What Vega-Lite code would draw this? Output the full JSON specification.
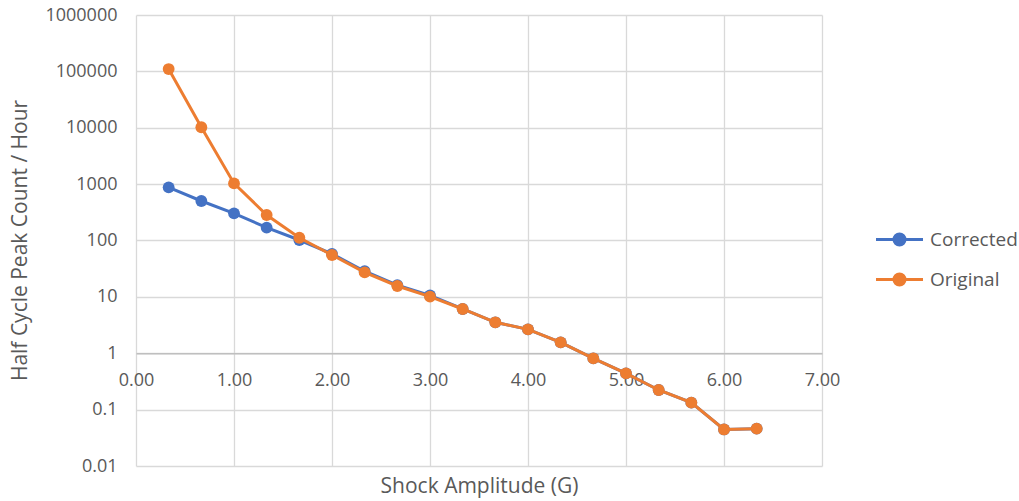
{
  "$schema": "https://vega.github.io/schema/vega-lite/v6.json",
  "autosize": "none",
  "width": 686,
  "height": 451,
  "padding": {"left": 136, "top": 15, "right": 197, "bottom": 35},
  "background": "white",
  "config": {
    "view": {"stroke": null},
    "font": "Open Sans",
    "axis": {"labelFont": "Open Sans", "titleFont": "Open Sans", "labelColor": "#595959", "titleColor": "#595959", "labelFontSize": 18, "titleFontSize": 21, "titleFontWeight": "normal", "gridColor": "#D9D9D9", "gridWidth": 1.3, "ticks": false, "labelFlush": false},
    "legend": {"labelFont": "Open Sans", "labelFontSize": 19, "labelColor": "#595959"}
  },
  "data": {
    "values": [
      {"x": 0.3333, "y": 877, "series": "Corrected"},
      {"x": 0.6667, "y": 502, "series": "Corrected"},
      {"x": 1.0, "y": 303, "series": "Corrected"},
      {"x": 1.3333, "y": 169, "series": "Corrected"},
      {"x": 1.6667, "y": 102, "series": "Corrected"},
      {"x": 2.0, "y": 58, "series": "Corrected"},
      {"x": 2.3333, "y": 28.5, "series": "Corrected"},
      {"x": 2.6667, "y": 16.2, "series": "Corrected"},
      {"x": 3.0, "y": 10.6, "series": "Corrected"},
      {"x": 3.3333, "y": 6.1, "series": "Corrected"},
      {"x": 3.6667, "y": 3.54, "series": "Corrected"},
      {"x": 4.0, "y": 2.65, "series": "Corrected"},
      {"x": 4.3333, "y": 1.56, "series": "Corrected"},
      {"x": 4.6667, "y": 0.81, "series": "Corrected"},
      {"x": 5.0, "y": 0.44, "series": "Corrected"},
      {"x": 5.3333, "y": 0.223, "series": "Corrected"},
      {"x": 5.6667, "y": 0.133, "series": "Corrected"},
      {"x": 6.0, "y": 0.0445, "series": "Corrected"},
      {"x": 6.3333, "y": 0.046, "series": "Corrected"},
      {"x": 0.3333, "y": 110000, "series": "Original"},
      {"x": 0.6667, "y": 10200, "series": "Original"},
      {"x": 1.0, "y": 1030, "series": "Original"},
      {"x": 1.3333, "y": 283, "series": "Original"},
      {"x": 1.6667, "y": 112, "series": "Original"},
      {"x": 2.0, "y": 55.3, "series": "Original"},
      {"x": 2.3333, "y": 27.2, "series": "Original"},
      {"x": 2.6667, "y": 15.6, "series": "Original"},
      {"x": 3.0, "y": 10.1, "series": "Original"},
      {"x": 3.3333, "y": 6.1, "series": "Original"},
      {"x": 3.6667, "y": 3.54, "series": "Original"},
      {"x": 4.0, "y": 2.65, "series": "Original"},
      {"x": 4.3333, "y": 1.56, "series": "Original"},
      {"x": 4.6667, "y": 0.81, "series": "Original"},
      {"x": 5.0, "y": 0.44, "series": "Original"},
      {"x": 5.3333, "y": 0.223, "series": "Original"},
      {"x": 5.6667, "y": 0.133, "series": "Original"},
      {"x": 6.0, "y": 0.0445, "series": "Original"},
      {"x": 6.3333, "y": 0.046, "series": "Original"}
    ]
  },
  "encoding": {
    "x": {
      "field": "x", "type": "quantitative",
      "scale": {"domain": [0, 7], "nice": false, "zero": false},
      "axis": {"title": "Shock Amplitude (G)", "values": [0, 1, 2, 3, 4, 5, 6, 7], "format": ".2f", "offset": -112.75, "domainColor": "#BFBFBF", "domainWidth": 1.5, "labelPadding": 18, "titleY": 133, "titleBaseline": "middle", "grid": true}
    },
    "y": {
      "field": "y", "type": "quantitative",
      "scale": {"type": "log", "domain": [0.01, 1000000], "nice": false},
      "axis": {"title": "Half Cycle Peak Count / Hour", "values": [0.01, 0.1, 1, 10, 100, 1000, 10000, 100000, 1000000], "format": "~f", "domain": false, "labelPadding": 19, "titleX": -116, "titleY": 225, "titleBaseline": "middle", "titleAlign": "center"}
    },
    "color": {
      "field": "series", "type": "nominal",
      "scale": {"domain": ["Corrected", "Original"], "range": ["#4472C4", "#ED7D31"]},
      "legend": {
        "title": null, "orient": "none", "legendX": 752, "legendY": 213,
        "symbolType": "M-2.35,0H2.35M-0.55,0A0.55,0.55 0 1,0 0.55,0A0.55,0.55 0 1,0 -0.55,0",
        "symbolSize": 400, "symbolStrokeWidth": 3, "labelOffset": 19, "rowPadding": 17,
        "encode": {"symbols": {"update": {"fill": {"scale": "color", "field": "value"}, "stroke": {"scale": "color", "field": "value"}, "opacity": {"value": 1}, "fillOpacity": {"value": 1}, "strokeOpacity": {"value": 1}}}}
      }
    }
  },
  "layer": [
    {
      "transform": [{"filter": "datum.series === 'Corrected'"}],
      "mark": {"type": "line", "strokeWidth": 3, "point": {"filled": true, "size": 140, "opacity": 1}}
    },
    {
      "transform": [{"filter": "datum.series === 'Original'"}],
      "mark": {"type": "line", "strokeWidth": 3, "point": {"filled": true, "size": 140, "opacity": 1}}
    }
  ]
}
